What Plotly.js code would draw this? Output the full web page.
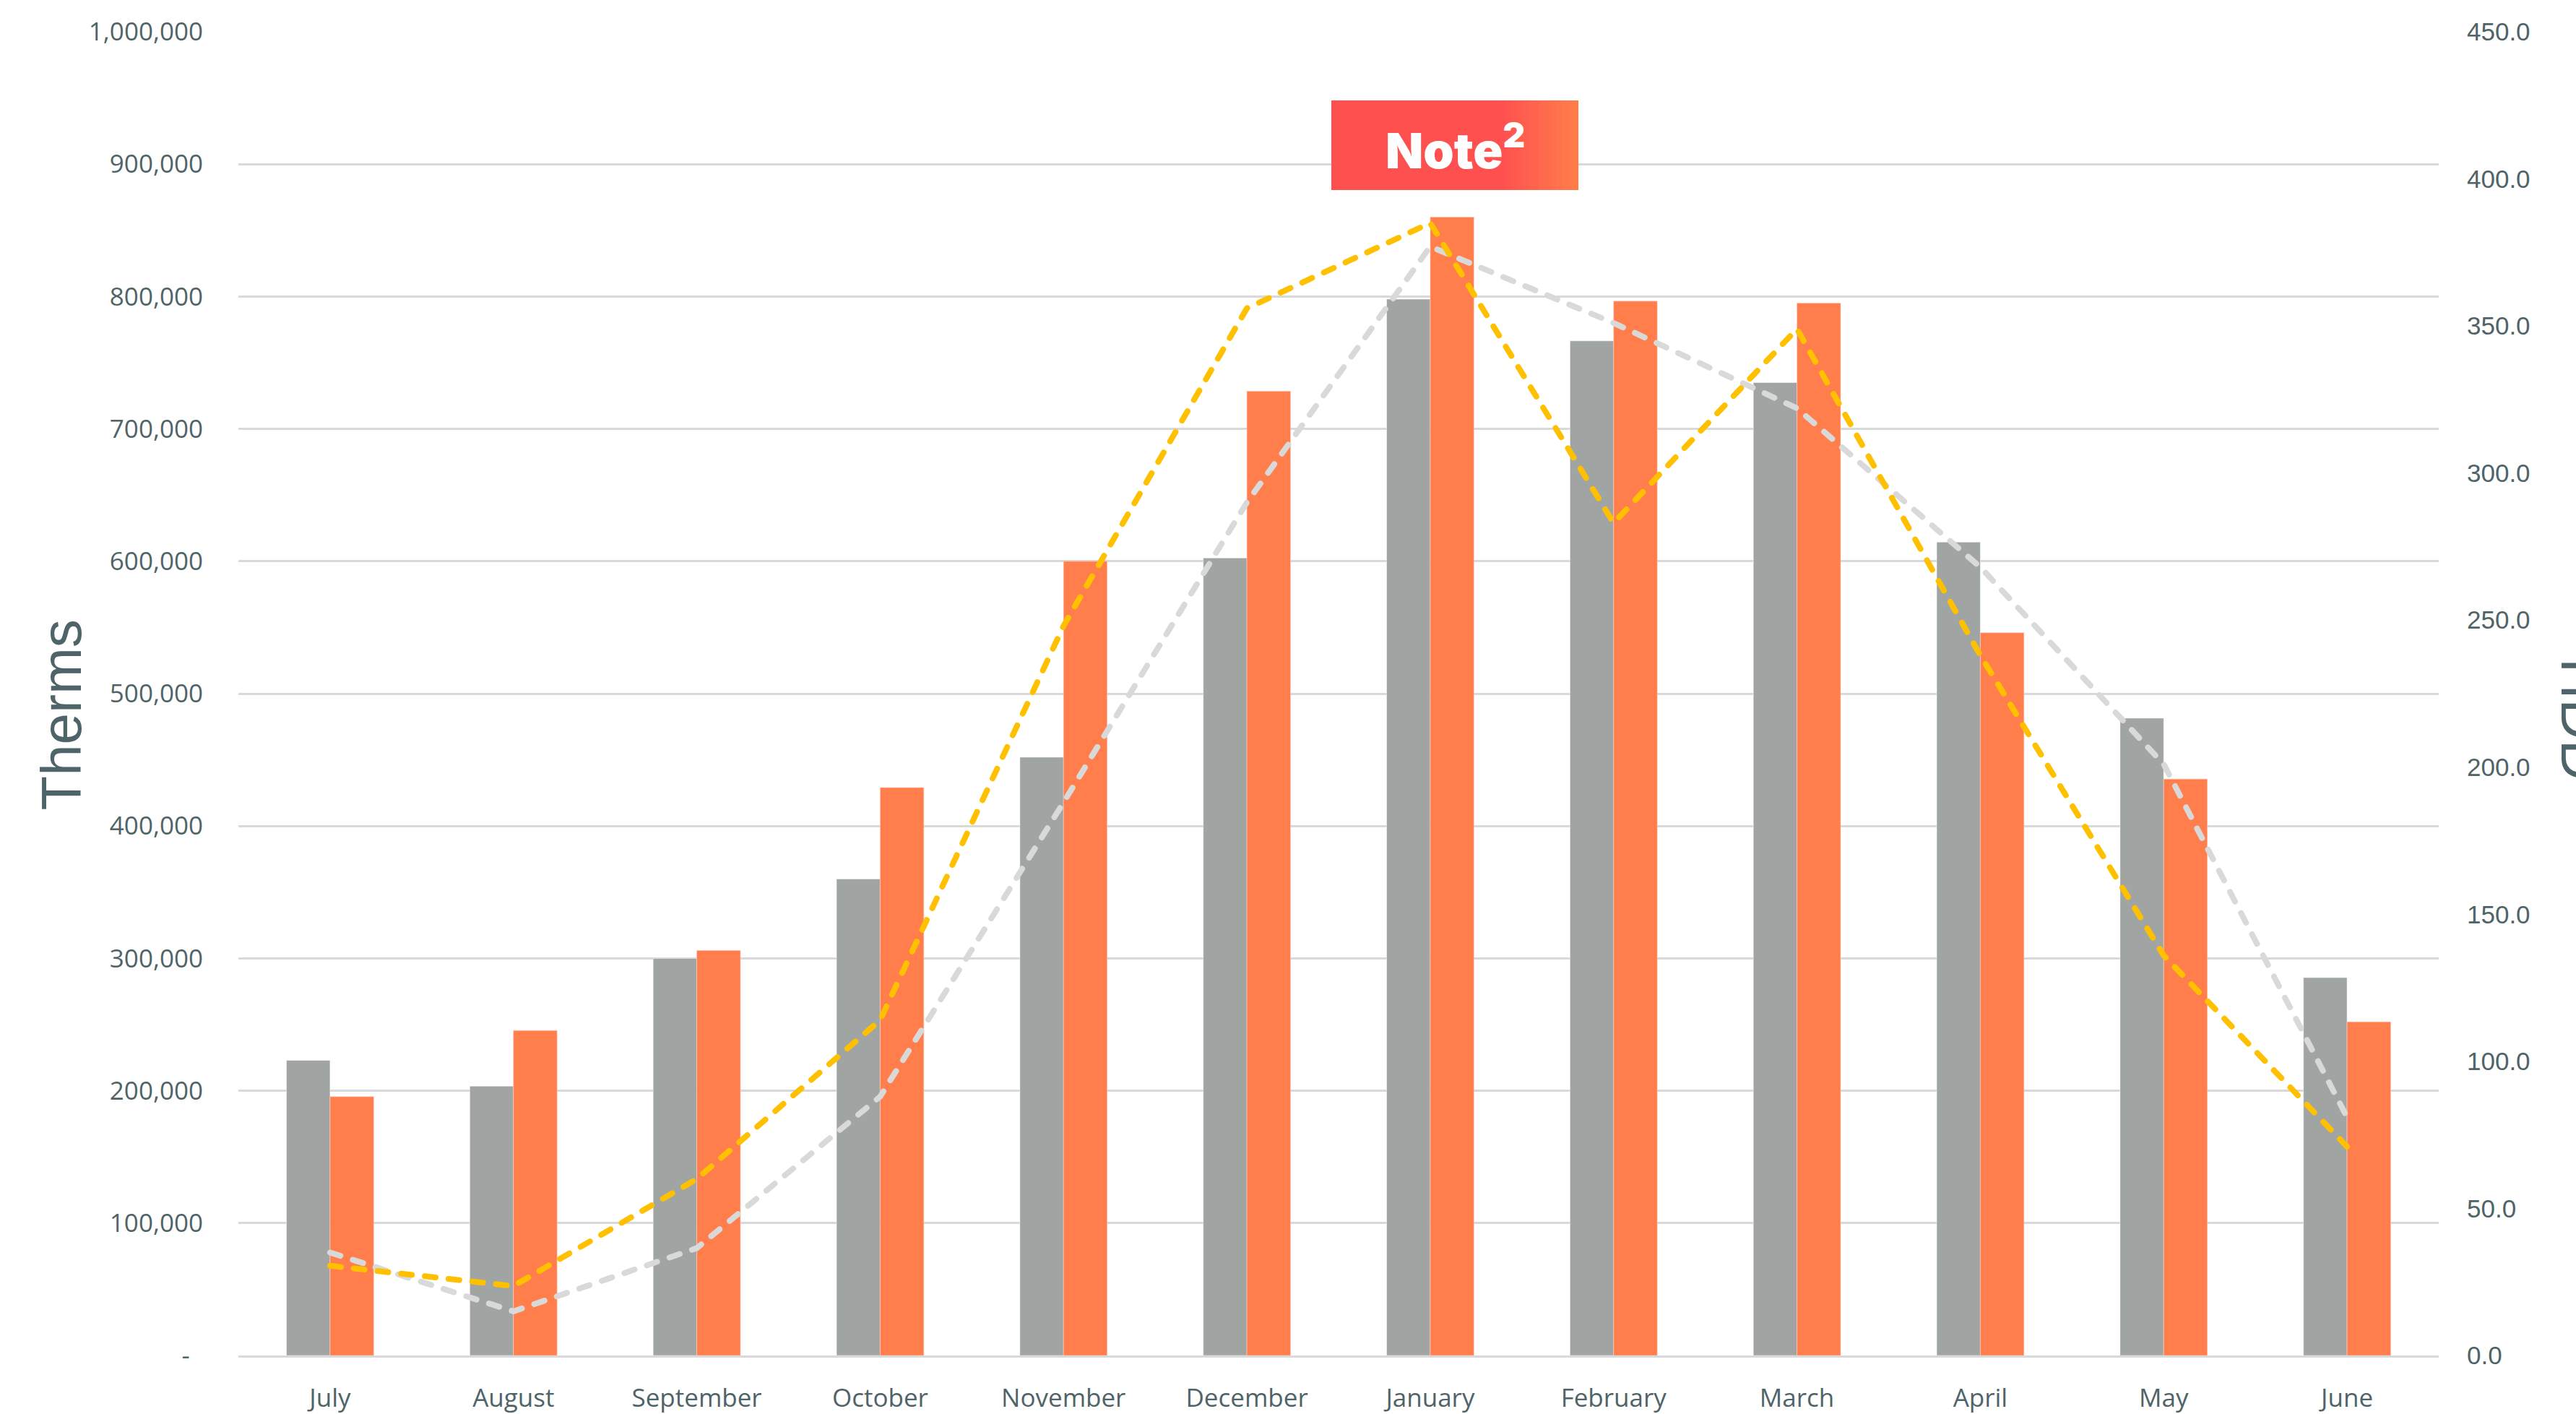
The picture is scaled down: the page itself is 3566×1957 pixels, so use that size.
<!DOCTYPE html>
<html>
<head>
<meta charset="utf-8">
<script src="https://cdn.plot.ly/plotly-3.0.1.min.js"></script>
<style>
  html, body { margin: 0; padding: 0; background: #ffffff; }
  #chart { width: 3566px; height: 1957px; }
</style>
</head>
<body>
<div id="chart"></div>
<script>
// ---- Data ----
const months = ['July', 'August', 'September', 'October', 'November', 'December',
                'January', 'February', 'March', 'April', 'May', 'June'];
const thermsPrior   = [223000, 203500, 300000, 360000, 452000, 602500, 798000, 766500, 735000, 614500, 481500, 285500];
const thermsCurrent = [195500, 245500, 306000, 429000, 600000, 728500, 860000, 796500, 795000, 546000, 435500, 252000];
const hddPrior      = [35, 15, 36.5, 88, 188, 290, 377, 351, 322, 268, 201, 81];
const hddCurrent    = [30.5, 23.6, 60, 114, 248, 356, 385, 283, 349, 238, 136, 71];
const thermTickVals = [0, 100000, 200000, 300000, 400000, 500000, 600000, 700000, 800000, 900000, 1000000];
const thermTickText = ['-\u00a0\u00a0', '100,000', '200,000', '300,000', '400,000', '500,000',
                       '600,000', '700,000', '800,000', '900,000', '1,000,000'];
const noteText = 'Note<sup>2</sup>';

// ---- Style ----
const slate = '#4F6468';
const W = 3566, H = 1957;
const M = { l: 330, r: 190, t: 44, b: 81 };
const plotW = W - M.l - M.r, plotH = H - M.t - M.b;
const px2x = px => (px - M.l) / plotW;
const px2y = py => (H - M.b - py) / plotH;

const traces = [
  {
    type: 'bar', x: months, y: thermsPrior, name: 'Therms prior',
    marker: { color: '#A0A5A4', line: { color: 'rgba(255,255,255,0.5)', width: 1 } },
    yaxis: 'y', hoverinfo: 'skip'
  },
  {
    type: 'bar', x: months, y: thermsCurrent, name: 'Therms current',
    marker: { color: '#FF7E4C', line: { color: 'rgba(255,200,190,0.6)', width: 1 } },
    yaxis: 'y', hoverinfo: 'skip'
  },
  {
    type: 'scatter', mode: 'lines', x: months, y: hddPrior, name: 'HDD prior',
    line: { color: '#D9D9D9', width: 8, dash: '15px,18px' },
    yaxis: 'y2', hoverinfo: 'skip'
  },
  {
    type: 'scatter', mode: 'lines', x: months, y: hddCurrent, name: 'HDD current',
    line: { color: '#FFC000', width: 8, dash: '15px,18px' },
    yaxis: 'y2', hoverinfo: 'skip'
  }
];

// Note box with horizontal gradient built from strips
const boxX0 = 1843, boxX1 = 2185, boxY0 = 139, boxY1 = 263, gradStart = 2077;
const shapes = [{
  type: 'rect', xref: 'paper', yref: 'paper',
  x0: px2x(boxX0), x1: px2x(gradStart + 1), y0: px2y(boxY1), y1: px2y(boxY0),
  fillcolor: '#FF5050', line: { width: 0 }, layer: 'above'
}];
const nStrips = 14;
const stripW = (boxX1 - gradStart) / nStrips;
for (let i = 0; i < nStrips; i++) {
  const t = (i + 0.5) / nStrips;
  const r = 255, g = Math.round(80 + (126 - 80) * t), b = Math.round(80 + (74 - 80) * t);
  shapes.push({
    type: 'rect', xref: 'paper', yref: 'paper',
    x0: px2x(gradStart + i * stripW), x1: px2x(gradStart + (i + 1) * stripW + (i < nStrips - 1 ? 0.8 : 0)),
    y0: px2y(boxY1), y1: px2y(boxY0),
    fillcolor: `rgb(${r},${g},${b})`, line: { width: 0 }, layer: 'above'
  });
}

const layout = {
  width: W, height: H,
  margin: M,
  paper_bgcolor: '#ffffff', plot_bgcolor: '#ffffff',
  showlegend: false,
  barmode: 'group', bargap: 0.524, bargroupgap: 0,
  font: { family: 'Open Sans, sans-serif', color: slate, size: 34 },
  xaxis: {
    type: 'category', range: [-0.5, 11.5], fixedrange: true,
    showgrid: false, zeroline: false,
    showline: true, linecolor: '#D9D9D9', linewidth: 3,
    ticks: '', ticklabelstandoff: 26,
    tickfont: { family: 'Open Sans, sans-serif', size: 35, color: slate }
  },
  yaxis: {
    range: [0, 1000000], fixedrange: true,
    tickmode: 'array', tickvals: thermTickVals, ticktext: thermTickText,
    showgrid: true, gridcolor: '#D9D9D9', gridwidth: 3,
    zeroline: false, showline: false, ticks: '', ticklabelstandoff: 48,
    tickfont: { family: 'Open Sans, sans-serif', size: 35, color: slate }
  },
  yaxis2: {
    overlaying: 'y', side: 'right', range: [0, 450], fixedrange: true,
    tickmode: 'linear', tick0: 0, dtick: 50, tickformat: '.1f',
    showgrid: false, zeroline: false, showline: false, ticks: '', ticklabelstandoff: 38,
    tickfont: { family: 'Liberation Sans, Arial, sans-serif', size: 35, color: slate }
  },
  shapes: shapes,
  annotations: [
    {
      text: 'Therms', xref: 'paper', yref: 'paper',
      x: px2x(84.5), y: px2y(990), xanchor: 'center', yanchor: 'middle',
      textangle: -90, showarrow: false,
      font: { family: 'Liberation Sans, Arial, sans-serif', size: 78, color: slate }
    },
    {
      text: 'HDD', xref: 'paper', yref: 'paper',
      x: px2x(3573), y: px2y(995), xanchor: 'center', yanchor: 'middle',
      textangle: 90, showarrow: false,
      font: { family: 'Liberation Sans, Arial, sans-serif', size: 78, color: slate }
    },
    {
      text: noteText, xref: 'paper', yref: 'paper',
      x: px2x((boxX0 + boxX1) / 2), y: px2y((boxY0 + boxY1) / 2 + 2),
      xanchor: 'center', yanchor: 'middle', showarrow: false,
      font: { family: 'Inter, Roboto, sans-serif', size: 68, color: '#ffffff', weight: 900 }
    }
  ]
};

Plotly.newPlot('chart', traces, layout, { staticPlot: true, displayModeBar: false }).then(gd => {
  gd.querySelectorAll('.scatterlayer path.js-line').forEach(p => {
    p.style.strokeLinecap = 'round';
    p.style.strokeLinejoin = 'round';
  });
});
</script>
</body>
</html>
